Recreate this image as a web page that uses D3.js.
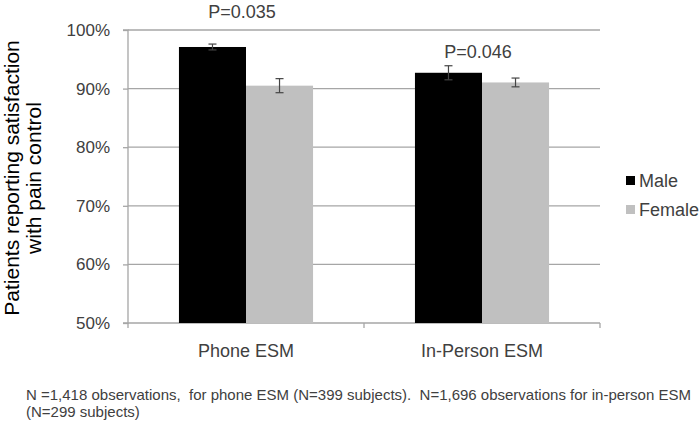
<!DOCTYPE html>
<html><head><meta charset="utf-8">
<script src="https://cdn.jsdelivr.net/npm/d3@7"></script>
<style>body{margin:0;background:#fff}svg{display:block;font-family:"Liberation Sans",Arial,sans-serif}</style>
</head><body><svg id="c" width="700" height="425"></svg>
<script>
const categories = ["Phone ESM", "In-Person ESM"];
const seriesNames = ["Male", "Female"];
const maleValues = [97.1, 92.7];
const femaleValues = [90.5, 91.05];
const maleErrors = [0.5, 1.2];
const femaleErrors = [1.2, 0.75];
const pLabels = ["P=0.035", "P=0.046"];
const yTicks = [50, 60, 70, 80, 90, 100];
const colors = ["#000000", "#c0c0c0"];

const FF = '"Liberation Sans",Arial,sans-serif';
const svg = d3.select("#c");
const m = {left: 128, right: 600, top: 30, bottom: 323};
const y = d3.scaleLinear().domain([50, 100]).range([m.bottom, m.top]);
const x0 = d3.scaleBand().domain(categories).range([m.left, m.right]).paddingInner(0).paddingOuter(0);
const x1 = d3.scaleBand().domain(seriesNames).range([0, x0.bandwidth()]).paddingInner(0).paddingOuter(0.76);

// gridlines
svg.append("g").selectAll("line").data(yTicks.filter(t => t > 50)).join("line")
  .attr("x1", m.left).attr("x2", m.right)
  .attr("y1", d => y(d)).attr("y2", d => y(d))
  .attr("stroke", "#a6a6a6").attr("stroke-width", 1.3);

// y axis
const yAxis = d3.axisLeft(y).tickValues(yTicks).tickFormat(d => d + "%").tickSize(5).tickPadding(13);
const yg = svg.append("g").attr("transform", `translate(${m.left},0)`).call(yAxis);
yg.select(".domain").attr("stroke", "#a6a6a6").attr("stroke-width", 1.3).attr("d", `M-5,${m.top}H0V${m.bottom}H-5`);
yg.selectAll(".tick line").attr("stroke", "#a6a6a6").attr("stroke-width", 1.3);
yg.selectAll(".tick text").attr("fill", "#404040").style("font-size", "17px").style("font-family", FF);

// x axis
const xAxis = d3.axisBottom(x0).tickSize(0).tickPadding(0);
const xg = svg.append("g").attr("transform", `translate(0,${m.bottom})`).call(xAxis);
xg.select(".domain").attr("stroke", "#a6a6a6").attr("stroke-width", 1.3).attr("d", `M${m.left},0H${m.right}`);
xg.selectAll(".tick text").attr("y", 34).attr("dy", 0).attr("fill", "#404040").style("font-size", "18px").style("font-family", FF);
const bounds = [m.left, ...categories.map(c => x0(c) + x0.bandwidth())];
xg.append("g").selectAll("line").data(bounds).join("line")
  .attr("x1", d => d).attr("x2", d => d).attr("y1", 0).attr("y2", 5)
  .attr("stroke", "#a6a6a6").attr("stroke-width", 1.3);

// bars
const data = categories.map((c, i) => ({cat: c, vals: [
  {s: "Male", v: maleValues[i], e: maleErrors[i], col: colors[0]},
  {s: "Female", v: femaleValues[i], e: femaleErrors[i], col: colors[1]}]}));
const groups = svg.append("g").selectAll("g").data(data).join("g")
  .attr("transform", d => `translate(${x0(d.cat)},0)`);
groups.selectAll("rect").data(d => d.vals).join("rect")
  .attr("x", d => x1(d.s)).attr("width", x1.bandwidth())
  .attr("y", d => y(d.v)).attr("height", d => y(50) - y(d.v))
  .attr("fill", d => d.col);
// error bars
const eb = groups.selectAll("g.err").data(d => d.vals).join("g").attr("class", "err")
  .attr("transform", d => `translate(${x1(d.s) + x1.bandwidth()/2},0)`);
eb.append("line").attr("x1", 0).attr("x2", 0).attr("y1", d => y(d.v + d.e)).attr("y2", d => y(d.v - d.e))
  .attr("stroke", "#444").attr("stroke-width", 1.2);
eb.selectAll("line.cap").data(d => [d.v + d.e, d.v - d.e].map(t => ({t, s: d.s}))).join("line").attr("class", "cap")
  .attr("x1", -4).attr("x2", 4).attr("y1", d => y(d.t)).attr("y2", d => y(d.t))
  .attr("stroke", "#444").attr("stroke-width", 1.2);

// P labels
const pY = [12, 52];
svg.append("g").selectAll("text").data(pLabels).join("text")
  .attr("x", (d, i) => x0(categories[i]) + x0.bandwidth()/2 - 4)
  .attr("y", (d, i) => pY[i]).attr("dy", "0.35em")
  .attr("text-anchor", "middle").attr("fill", "#404040").style("font-size", "18px").text(d => d);

// y title
const yt = svg.append("text").attr("transform", "translate(0,178) rotate(-90)")
  .attr("text-anchor", "middle").attr("fill", "#000").style("font-size", "21px");
yt.append("tspan").attr("x", 0).attr("y", 19).text("Patients reporting satisfaction");
yt.append("tspan").attr("x", 0).attr("y", 41).text("with pain control");

// legend
const lg = svg.append("g").selectAll("g").data(seriesNames).join("g")
  .attr("transform", (d, i) => `translate(626,${176 + i * 29})`);
lg.append("rect").attr("width", 9).attr("height", 9).attr("fill", (d, i) => colors[i]);
lg.append("text").attr("x", 13).attr("y", 11).attr("fill", "#404040").style("font-size", "18px").text(d => d);

// footnote
const fn = svg.append("text").attr("fill", "#404040").style("font-size", "15px").attr("xml:space", "preserve");
fn.append("tspan").attr("x", 26).attr("y", 400).text("N =1,418 observations,  for phone ESM (N=399 subjects).  N=1,696 observations for in-person ESM");
fn.append("tspan").attr("x", 26).attr("y", 417).text("(N=299 subjects)");
</script></body></html>
